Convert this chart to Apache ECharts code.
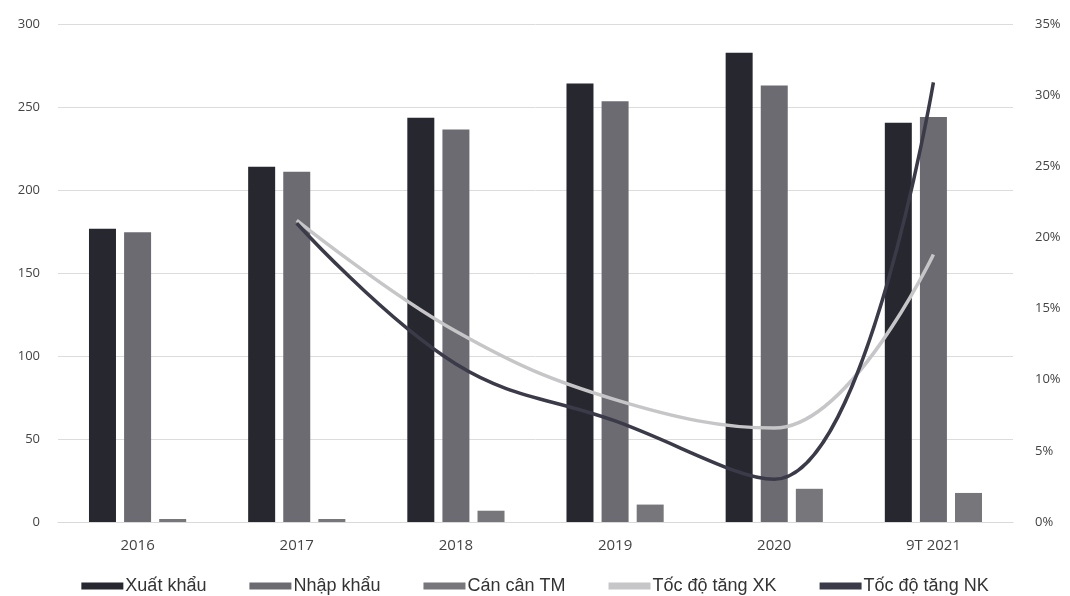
<!DOCTYPE html>
<html>
<head>
<meta charset="utf-8">
<script src="https://cdn.jsdelivr.net/npm/echarts@6/dist/echarts.min.js"></script>
<style>
html,body{margin:0;padding:0;background:#fff;}
#chart{width:1070px;height:596px;}
</style>
</head>
<body>
<div id="chart"></div>
<script>
const categories = ['2016', '2017', '2018', '2019', '2020', '9T 2021'];
const xuatKhau = [176.6, 214.0, 243.5, 264.2, 282.7, 240.5];
const nhapKhau = [174.5, 211.0, 236.5, 253.5, 263.0, 244.0];
const canCan = [1.8, 1.8, 6.8, 10.5, 20.0, 17.5];
const tocDoXK = [null, 21.2, 13.4, 8.6, 6.6, 18.8];
const tocDoNK = [null, 21.0, 11.1, 7.1, 3.0, 30.9];
const leftTicks = { min: 0, max: 300, interval: 50 };
const rightTicks = { min: 0, max: 35, interval: 5 };

const font = 'Open Sans';
const chart = echarts.init(document.getElementById('chart'));
chart.setOption({
  backgroundColor: '#ffffff',
  animation: false,
  grid: { left: 58, right: 57, top: 24, bottom: 74, containLabel: false },
  legend: {
    bottom: -4,
    left: 'center',
    itemWidth: 42,
    itemHeight: 7,
    itemGap: 43,
    textStyle: { fontFamily: 'Liberation Sans', fontSize: 18, color: '#333', padding: [0, 0, 0, -3] },
    data: [
      { name: 'Xuất khẩu', icon: 'rect' },
      { name: 'Nhập khẩu', icon: 'rect' },
      { name: 'Cán cân TM', icon: 'rect' },
      { name: 'Tốc độ tăng XK', icon: 'rect' },
      { name: 'Tốc độ tăng NK', icon: 'rect' }
    ]
  },
  xAxis: {
    type: 'category',
    data: categories,
    axisLine: { show: true, lineStyle: { color: '#d9d9d9' } },
    axisTick: { show: false },
    axisLabel: { fontFamily: font, fontSize: 15, color: '#444', margin: 16 }
  },
  yAxis: [
    {
      type: 'value',
      min: leftTicks.min, max: leftTicks.max, interval: leftTicks.interval,
      axisLine: { show: false }, axisTick: { show: false },
      axisLabel: { fontFamily: font, fontSize: 13, color: '#444', margin: 18 },
      splitLine: { lineStyle: { color: '#dcdcdc', width: 1 } }
    },
    {
      type: 'value',
      min: rightTicks.min, max: rightTicks.max, interval: rightTicks.interval,
      axisLine: { show: false }, axisTick: { show: false },
      axisLabel: { fontFamily: font, fontSize: 13, color: '#444', margin: 22, formatter: '{value}%' },
      splitLine: { show: false }
    }
  ],
  series: [
    { name: 'Xuất khẩu', type: 'bar', data: xuatKhau, barWidth: 27, barGap: '30%', itemStyle: { color: '#27272f' } },
    { name: 'Nhập khẩu', type: 'bar', data: nhapKhau, barWidth: 27, barGap: '30%', itemStyle: { color: '#6c6b71' } },
    { name: 'Cán cân TM', type: 'bar', data: canCan, barWidth: 27, barGap: '30%', itemStyle: { color: '#77767b' } },
    { name: 'Tốc độ tăng XK', type: 'line', yAxisIndex: 1, data: tocDoXK, smooth: 0.4, symbol: 'none', connectNulls: false,
      lineStyle: { color: '#c6c6c8', width: 3.5 }, itemStyle: { color: '#c6c6c8' } },
    { name: 'Tốc độ tăng NK', type: 'line', yAxisIndex: 1, data: tocDoNK, smooth: 0.4, symbol: 'none', connectNulls: false,
      lineStyle: { color: '#3b3a48', width: 3.5 }, itemStyle: { color: '#3b3a48' } }
  ]
});
</script>
</body>
</html>
